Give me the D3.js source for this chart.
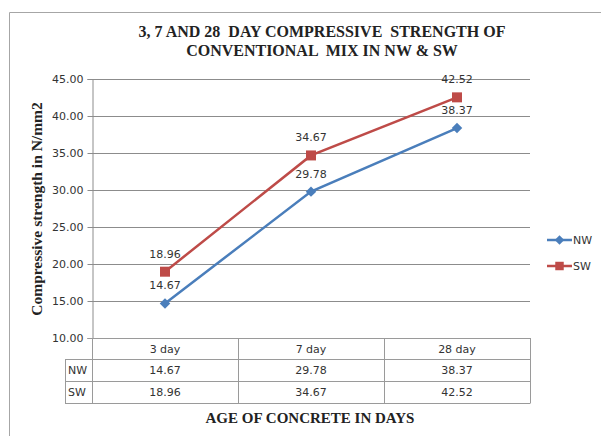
<!DOCTYPE html>
<html><head><meta charset="utf-8">
<script src="https://cdn.jsdelivr.net/npm/d3@7"></script>
<style>body{margin:0;background:#fff}svg{display:block}</style>
</head><body>
<svg id="c" width="601" height="436"></svg>
<script>
const categories = ["3 day", "7 day", "28 day"];
const seriesNames = ["NW", "SW"];
const nwValues = [14.67, 29.78, 38.37];
const swValues = [18.96, 34.67, 42.52];
const yTicks = [10, 15, 20, 25, 30, 35, 40, 45];
const titleLines = ["3, 7 AND 28  DAY COMPRESSIVE  STRENGTH OF", "CONVENTIONAL  MIX IN NW & SW"];
const yTitle = "Compressive strength in N/mm2";
const xTitle = "AGE OF CONCRETE IN DAYS";

const colors = {NW: "#4a7ebb", SW: "#be4b48"};
const diamond = {draw(ctx, size) { const r = Math.sqrt(size / 2); ctx.moveTo(0, -r); ctx.lineTo(r, 0); ctx.lineTo(0, r); ctx.lineTo(-r, 0); ctx.closePath(); }};
const series = [
  {name: seriesNames[0], values: nwValues, color: colors.NW, shape: diamond, size: 55, lsize: 45},
  {name: seriesNames[1], values: swValues, color: colors.SW, shape: d3.symbolSquare, size: 100, lsize: 72}
];

const svg = d3.select("#c");
const L = 92, R = 530, T = 79, B = 338;
const x = d3.scaleBand().domain(categories).range([L, R]);
const y = d3.scaleLinear().domain([10, 45]).range([B, T]);
const grid = "#8c8c8c";
const sans = "'DejaVu Sans', Verdana, sans-serif";
const serif = "'Liberation Serif', 'Times New Roman', serif";

// outer frame
svg.append("path").attr("d", "M9.5,436 V12.5 H601").attr("fill", "none").attr("stroke", "#a6a6a6");

// title
svg.append("g").selectAll("text").data(titleLines).join("text")
  .attr("x", 322).attr("y", (d, i) => 37 + i * 19)
  .attr("text-anchor", "middle").attr("font-family", serif).attr("font-weight", "bold")
  .attr("font-size", 16).attr("fill", "#222").style("white-space", "pre").text(d => d);

// gridlines
svg.append("g").selectAll("line").data(yTicks).join("line")
  .attr("x1", L).attr("x2", R).attr("y1", d => Math.round(y(d)) + 0.5).attr("y2", d => Math.round(y(d)) + 0.5)
  .attr("stroke", grid).attr("stroke-width", 1);

// y axis
const yAxis = svg.append("g").attr("transform", `translate(${L + 0.5},0)`)
  .call(d3.axisLeft(y).tickValues(yTicks).tickFormat(d3.format(".2f")).tickSize(5).tickPadding(4));
yAxis.select(".domain").attr("stroke", grid);
yAxis.selectAll(".tick line").attr("stroke", grid);
yAxis.selectAll(".tick text").attr("font-family", sans).attr("font-size", 11).attr("fill", "#333");

// y title
svg.append("text").attr("transform", "translate(42,209) rotate(-90)")
  .attr("text-anchor", "middle").attr("font-family", serif).attr("font-weight", "bold")
  .attr("font-size", 15.5).attr("fill", "#222").text(yTitle);

// lines and markers
const line = d3.line().x((d, i) => x(categories[i]) + x.bandwidth() / 2).y(d => y(d));
series.forEach(s => {
  svg.append("path").attr("d", line(s.values)).attr("fill", "none")
    .attr("stroke", s.color).attr("stroke-width", 2.5);
  svg.append("g").selectAll("path").data(s.values).join("path")
    .attr("transform", (d, i) => `translate(${x(categories[i]) + x.bandwidth() / 2},${y(d)})`)
    .attr("d", d3.symbol().type(s.shape).size(s.size)())
    .attr("fill", s.color);
  svg.append("g").selectAll("text").data(s.values).join("text")
    .attr("x", (d, i) => x(categories[i]) + x.bandwidth() / 2)
    .attr("y", d => y(d) - 14)
    .attr("text-anchor", "middle").attr("font-family", sans).attr("font-size", 11).attr("fill", "#333")
    .text(d => d.toFixed(2));
});

// data table
const rowTop = B, headerH = 21, rowH = 22, tableLeft = 65;
const tbl = svg.append("g").attr("stroke", "#9a9a9a").attr("fill", "none");
const colEdges = categories.map(c => x(c)).concat([R]);
colEdges.forEach(cx => tbl.append("line").attr("x1", Math.round(cx) + 0.5).attr("x2", Math.round(cx) + 0.5)
  .attr("y1", rowTop).attr("y2", rowTop + headerH + rowH * 2));
tbl.append("line").attr("x1", tableLeft + 0.5).attr("x2", tableLeft + 0.5)
  .attr("y1", rowTop + headerH).attr("y2", rowTop + headerH + rowH * 2);
[0, 1, 2].forEach(k => tbl.append("line").attr("x1", tableLeft).attr("x2", R + 0.5)
  .attr("y1", rowTop + headerH + rowH * k + 0.5).attr("y2", rowTop + headerH + rowH * k + 0.5));
tbl.append("line").attr("x1", L - 4).attr("x2", R + 0.5).attr("y1", rowTop + 0.5).attr("y2", rowTop + 0.5);

svg.append("g").selectAll("text").data(categories).join("text")
  .attr("x", d => x(d) + x.bandwidth() / 2).attr("y", rowTop + headerH / 2 + 4)
  .attr("text-anchor", "middle").attr("font-family", sans).attr("font-size", 11).attr("fill", "#333").text(d => d);
series.forEach((s, r) => {
  const cy = rowTop + headerH + rowH * r + rowH / 2 + 4;
  svg.append("text").attr("x", tableLeft + 3).attr("y", cy).attr("font-family", sans).attr("font-size", 11)
    .attr("fill", "#333").text(s.name);
  svg.append("g").selectAll("text").data(s.values).join("text")
    .attr("x", (d, i) => x(categories[i]) + x.bandwidth() / 2).attr("y", cy)
    .attr("text-anchor", "middle").attr("font-family", sans).attr("font-size", 11).attr("fill", "#333")
    .text(d => d.toFixed(2));
});

// x title
svg.append("text").attr("x", 310).attr("y", 423).attr("text-anchor", "middle")
  .attr("font-family", serif).attr("font-weight", "bold").attr("font-size", 15).attr("fill", "#222").text(xTitle);

// legend
series.forEach((s, i) => {
  const ly = 240 + i * 26;
  svg.append("line").attr("x1", 547).attr("x2", 572).attr("y1", ly).attr("y2", ly)
    .attr("stroke", s.color).attr("stroke-width", 2.5);
  svg.append("path").attr("transform", `translate(559.5,${ly})`)
    .attr("d", d3.symbol().type(s.shape).size(s.lsize)()).attr("fill", s.color);
  svg.append("text").attr("x", 573).attr("y", ly + 4).attr("font-family", sans).attr("font-size", 11)
    .attr("fill", "#333").text(s.name);
});
</script>
</body></html>
